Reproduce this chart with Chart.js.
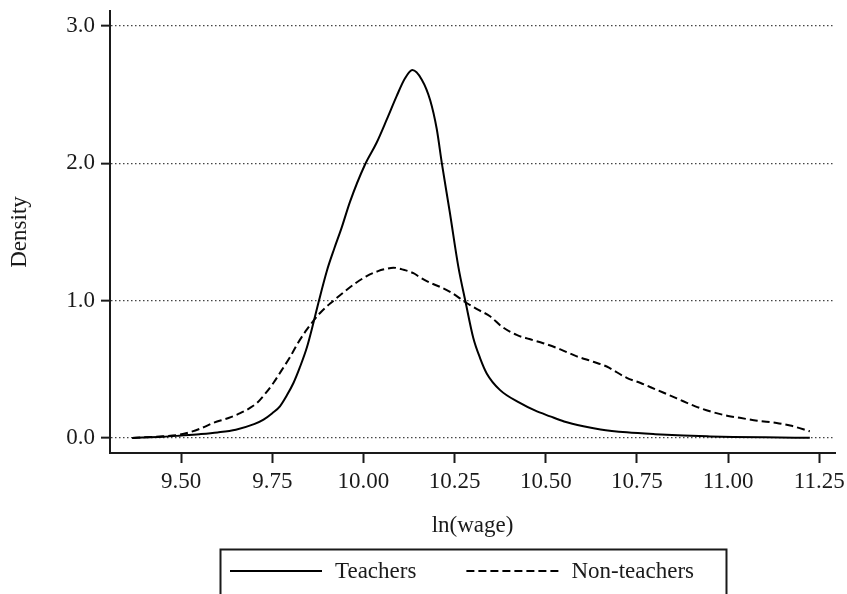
<!DOCTYPE html>
<html>
<head>
<meta charset="utf-8">
<script src="https://cdn.jsdelivr.net/npm/chart.js@4.4.1/dist/chart.umd.min.js"></script>
<style>
  body { margin: 0; background: #fff; }
  #wrap { width: 847px; height: 594px; }
</style>
</head>
<body>
<div id="wrap"><canvas id="densityChart" width="847" height="594"></canvas></div>
<script>
// kernel density of ln(wage)
const teachersX = [9.366, 9.45, 9.50, 9.55, 9.60, 9.65, 9.70, 9.726, 9.75, 9.771, 9.79, 9.808, 9.825, 9.845,
    9.863, 9.877, 9.90, 9.92, 9.94, 9.963, 10.004, 10.036, 10.064, 10.091, 10.114, 10.134, 10.16, 10.183,
    10.201, 10.215, 10.237, 10.26, 10.28, 10.301, 10.32, 10.338, 10.374, 10.429, 10.47, 10.512, 10.55,
    10.603, 10.65, 10.722, 10.80, 10.877, 10.95, 11.014, 11.10, 11.224];
const teachersY = [0.0, 0.008, 0.017, 0.027, 0.040, 0.06, 0.10, 0.133, 0.18, 0.23, 0.31, 0.40, 0.51, 0.66,
    0.84, 0.99, 1.22, 1.38, 1.53, 1.72, 1.99, 2.15, 2.32, 2.49, 2.62, 2.68, 2.61, 2.46,
    2.25, 2.0, 1.64, 1.25, 0.99, 0.73, 0.58, 0.47, 0.35, 0.255, 0.20, 0.157, 0.12,
    0.085, 0.062, 0.041, 0.027, 0.017, 0.011, 0.007, 0.004, 0.001];

const nonTeachersX = [9.366, 9.45, 9.497, 9.55, 9.589, 9.63, 9.662, 9.69, 9.708, 9.73, 9.753, 9.775, 9.799,
    9.82, 9.845, 9.881, 9.918, 9.95, 9.98, 10.01, 10.04, 10.06, 10.082, 10.11, 10.137, 10.155, 10.183,
    10.21, 10.24, 10.279, 10.31, 10.347, 10.38, 10.42, 10.455, 10.493, 10.54, 10.585, 10.63, 10.667,
    10.722, 10.76, 10.804, 10.84, 10.877, 10.91, 10.95, 11.0, 11.032, 11.08, 11.133, 11.17, 11.224];
const nonTeachersY = [0.0, 0.012, 0.024, 0.065, 0.11, 0.145, 0.18, 0.22, 0.255, 0.32, 0.40, 0.49, 0.59,
    0.69, 0.79, 0.91, 1.0, 1.07, 1.13, 1.18, 1.215, 1.23, 1.24, 1.225, 1.20, 1.17, 1.13,
    1.10, 1.06, 0.99, 0.94, 0.886, 0.81, 0.75, 0.72, 0.69, 0.645, 0.594, 0.555, 0.52,
    0.437, 0.40, 0.35, 0.31, 0.267, 0.23, 0.194, 0.16, 0.146, 0.125, 0.109, 0.09, 0.048];

const xTicks = [9.50, 9.75, 10.00, 10.25, 10.50, 10.75, 11.00, 11.25];
const yTicks = [0.0, 1.0, 2.0, 3.0];

const serif = '"Liberation Serif", "Times New Roman", serif';
const ink = '#1a1a1a';

function toPoints(xs, ys) { return xs.map((x, i) => ({ x: x, y: ys[i] })); }

// boxed legend under the x axis title, drawn from the dataset styles
const boxedLegend = {
    id: 'boxedLegend',
    afterDraw(chart) {
        const c = chart.ctx;
        const area = chart.chartArea;
        const top = chart.scales.x.bottom + 3;
        const midY = top + 23;
        const sample = 92, gap = 13, between = 50, padL = 10, padR = 32;
        c.save();
        c.font = '23px ' + serif;
        const sets = chart.data.datasets;
        const widths = sets.map(d => c.measureText(d.label).width);
        let content = 0;
        widths.forEach((w, i) => { content += sample + gap + w + (i < widths.length - 1 ? between : 0); });
        const boxW = content + padL + padR;
        const boxL = Math.round((area.left + area.right) / 2 - boxW / 2);
        c.strokeStyle = ink;
        c.lineWidth = 2;
        c.strokeRect(boxL + 0.5, top + 0.5, boxW, 60);
        let x = boxL + padL;
        sets.forEach((d, i) => {
            c.beginPath();
            c.setLineDash(d.borderDash || []);
            c.lineWidth = d.borderWidth;
            c.strokeStyle = d.borderColor;
            c.moveTo(x, midY - 1);
            c.lineTo(x + sample, midY - 1);
            c.stroke();
            c.setLineDash([]);
            c.fillStyle = ink;
            c.textBaseline = 'middle';
            c.fillText(d.label, x + sample + gap, midY);
            x += sample + gap + widths[i] + between;
        });
        c.restore();
    }
};

new Chart(document.getElementById('densityChart'), {
    type: 'line',
    data: {
        datasets: [{
            label: 'Teachers',
            data: toPoints(teachersX, teachersY),
            borderColor: '#000', borderWidth: 2,
            pointRadius: 0, fill: false,
            cubicInterpolationMode: 'monotone'
        }, {
            label: 'Non-teachers',
            data: toPoints(nonTeachersX, nonTeachersY),
            borderColor: '#000', borderWidth: 2, borderDash: [8, 4],
            pointRadius: 0, fill: false,
            cubicInterpolationMode: 'monotone'
        }]
    },
    options: {
        responsive: false,
        animation: false,
        layout: { padding: { left: 0, right: 12, top: 11, bottom: 48 } },
        plugins: { legend: { display: false }, tooltip: { enabled: false } },
        scales: {
            x: {
                type: 'linear', min: 9.305, max: 11.293,
                afterBuildTicks: s => { s.ticks = xTicks.map(v => ({ value: v })); },
                afterFit: s => { s.height = 93; s.paddingLeft = 0; s.paddingRight = 0; },
                grid: { drawOnChartArea: false, drawTicks: true, tickLength: 10, tickColor: ink, tickWidth: 2 },
                border: { display: true, color: ink, width: 2 },
                ticks: {
                    color: ink, padding: 5, maxRotation: 0, autoSkip: false,
                    font: { family: serif, size: 23 },
                    callback: v => v.toFixed(2)
                },
                title: { display: true, text: 'ln(wage)', color: ink, padding: { top: 0, bottom: 6 }, font: { family: serif, size: 23 } }
            },
            y: {
                min: -0.11, max: 3.11,
                afterBuildTicks: s => { s.ticks = yTicks.map(v => ({ value: v })); },
                afterFit: s => { s.width = 110; s.paddingTop = 0; s.paddingBottom = 0; },
                grid: {
                    color: '#444', lineWidth: 1.3, drawTicks: true, tickLength: 9,
                    tickColor: ink, tickWidth: 2, tickBorderDash: []
                },
                border: { display: true, color: ink, width: 2, dash: [1.5, 2.5] },
                ticks: {
                    color: ink, padding: 6,
                    font: { family: serif, size: 23 },
                    callback: v => v.toFixed(1)
                },
                title: { display: true, text: 'Density', color: ink, padding: { top: 6, bottom: 0 }, font: { family: serif, size: 23 } }
            }
        }
    },
    plugins: [boxedLegend]
});
</script>
</body>
</html>
